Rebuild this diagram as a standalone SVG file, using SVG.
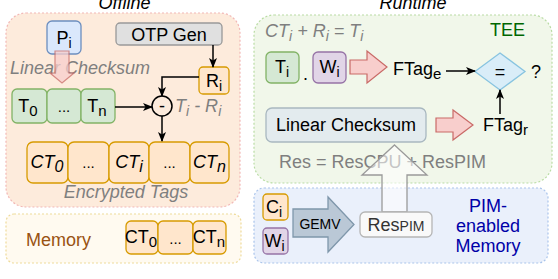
<svg xmlns="http://www.w3.org/2000/svg" width="558" height="279" viewBox="0 0 558 279">
<style>
text{font-family:"Liberation Sans",Arial,sans-serif;font-size:18px;fill:#000;}
.c{text-anchor:middle;}
.it{font-style:italic;}
.gray{fill:#7f7f7f;}
.green{fill:#d5e8d4;stroke:#82b366;stroke-width:1.3;}
.orange{fill:#ffe6cc;stroke:#d79b00;stroke-width:1.3;}
.blue{fill:#dae8fc;stroke:#6c8ebf;stroke-width:1.3;}
.purple{fill:#e1d5e7;stroke:#9673a6;stroke-width:1.3;}
.conn{fill:none;stroke:#000;stroke-width:1.5;marker-end:url(#ah);}
.pink{fill:#f8cecc;stroke:#c96a67;stroke-width:1.2;}
</style>
<defs>
<marker id="ah" markerWidth="10" markerHeight="8" refX="9" refY="4" orient="auto" markerUnits="userSpaceOnUse">
<path d="M0,0 L10,4 L0,8 L2.5,4 Z" fill="#000"/>
</marker>
</defs>

<!-- containers -->
<g id="offline">
<rect x="6" y="13" width="234" height="194" rx="20" fill="#fdebdc" stroke="#f2b8b6" stroke-width="1.2" stroke-dasharray="2,2"/>
<text class="c it" x="124.5" y="9">Offline</text>
</g>
<g id="memory">
<rect x="6" y="214" width="235" height="49" rx="8" fill="#fffaf0" stroke="#eedb9a" stroke-width="1.2" stroke-dasharray="2,2"/>
<text x="26" y="246" fill="#995213" style="fill:#995213">Memory</text>
</g>
<g id="runtime">
<rect x="254" y="15" width="298" height="168" rx="20" fill="#f1f7ea" stroke="#b9dca4" stroke-width="1.2" stroke-dasharray="2,2"/>
<text class="c it" x="413" y="9">Runtime</text>
<text x="490" y="36" style="fill:#006600">TEE</text>
</g>
<g id="pim">
<rect x="254" y="188" width="294" height="75" rx="10" fill="#eaf0fb" stroke="#a9c4eb" stroke-width="1.2" stroke-dasharray="2,2"/>
<text class="c" x="488" y="212" style="fill:#0000a8">PIM-</text>
<text class="c" x="488" y="232" style="fill:#0000a8">enabled</text>
<text class="c" x="488" y="252" style="fill:#0000a8">Memory</text>
</g>

<!-- offline nodes -->
<g id="node-pi">
<rect class="blue" x="47" y="21" width="34" height="33" rx="5"/>
<text class="c" x="64" y="44">P<tspan font-size="14" dy="4">i</tspan></text>
</g>
<g id="node-otp">
<rect x="116" y="23" width="106" height="22" rx="4" fill="#e0e0e0" stroke="#999" stroke-width="1.3"/>
<text class="c" x="169" y="40.5">OTP Gen</text>
</g>
<g id="node-ri">
<rect class="orange" x="199" y="67" width="30" height="27" rx="4"/>
<text class="c" x="214" y="87">R<tspan font-size="14" dy="4">i</tspan></text>
</g>
<g id="label-linear-offline">
<text class="it gray" x="10" y="74">Linear Checksum</text>
</g>
<g id="node-pi-arrow">
<path class="pink" d="M55,51 L69,51 L69,73 L74,73 L62,83 L50,73 L55,73 Z" opacity="0.75"/>
</g>
<g id="node-t">
<rect class="green" x="12" y="89" width="35" height="34" rx="5"/>
<rect class="green" x="47" y="89" width="34" height="34" rx="5"/>
<rect class="green" x="81" y="89" width="34" height="34" rx="5"/>
<text class="c" x="28" y="112">T<tspan font-size="15" dy="4">0</tspan></text>
<text class="c" x="64" y="112" font-size="15" style="font-size:15px">...</text>
<text class="c" x="97" y="112">T<tspan font-size="15" dy="4">n</tspan></text>
</g>
<g id="node-minus">
<circle cx="162" cy="106" r="10" fill="#fdebdc" stroke="#000" stroke-width="1.5"/>
<text class="c" x="162" y="112">-</text>
<text class="it gray" x="175" y="112">T<tspan font-size="14" dy="4">i</tspan><tspan dy="-4"> - R</tspan><tspan font-size="14" dy="4">i</tspan></text>
</g>
<g id="node-ct">
<rect class="orange" x="27" y="142" width="41" height="41" rx="6"/>
<rect class="orange" x="68" y="142" width="41" height="41" rx="6"/>
<rect class="orange" x="109" y="142" width="40" height="41" rx="6"/>
<rect class="orange" x="149" y="142" width="41" height="41" rx="6"/>
<rect class="orange" x="190" y="142" width="39" height="41" rx="6"/>
<text class="c it" x="47" y="168">CT<tspan font-size="16" dy="4">0</tspan></text>
<text class="c" x="88.5" y="168" style="font-size:15px">...</text>
<text class="c it" x="129" y="168">CT<tspan font-size="16" dy="4">i</tspan></text>
<text class="c" x="169.5" y="168" style="font-size:15px">...</text>
<text class="c it" x="209.5" y="168">CT<tspan font-size="16" dy="4">n</tspan></text>
<text class="c it gray" x="126" y="198">Encrypted Tags</text>
</g>
<g id="node-mem-ct">
<rect class="orange" x="126" y="221" width="32" height="33" rx="5"/>
<rect class="orange" x="158" y="221" width="35" height="33" rx="5"/>
<rect class="orange" x="193" y="221" width="33" height="33" rx="5"/>
<text class="c" x="141" y="243">CT<tspan font-size="15" dy="4">0</tspan></text>
<text class="c" x="175.5" y="244" style="font-size:15px">...</text>
<text class="c" x="209" y="243">CT<tspan font-size="15" dy="4">n</tspan></text>
</g>

<!-- runtime nodes -->
<g id="label-eq">
<text class="it gray" x="265" y="37">CT<tspan font-size="14" dy="4">i</tspan><tspan dy="-4"> + R</tspan><tspan font-size="14" dy="4">i</tspan><tspan dy="-4"> = T</tspan><tspan font-size="14" dy="4">i</tspan></text>
</g>
<g id="node-ti">
<rect class="green" x="266" y="52" width="33" height="31" rx="5"/>
<text class="c" x="282" y="73">T<tspan font-size="14" dy="4">i</tspan></text>
<text x="303" y="80">.</text>
</g>
<g id="node-wi">
<rect class="purple" x="313" y="52" width="33" height="31" rx="5"/>
<text class="c" x="329.5" y="73">W<tspan font-size="14" dy="4">i</tspan></text>
</g>
<g id="arrow-pink-1">
<path class="pink" d="M350,60 L367,60 L367,51 L387,67 L367,83 L367,74 L350,74 Z"/>
</g>
<g id="node-ftage">
<text x="393" y="75">FTag<tspan font-size="15" dy="4">e</tspan></text>
</g>
<g id="node-diamond">
<path d="M500,53 L525,71.5 L500,90 L475,71.5 Z" fill="#d9edf8" stroke="#88c4e0" stroke-width="1.3"/>
<text class="c" x="500" y="78">=</text>
<text x="531" y="78">?</text>
</g>
<g id="node-linear">
<rect x="266" y="108" width="160" height="34" rx="6" fill="#e3ebee" stroke="#a9b8c0" stroke-width="1.3"/>
<text class="c" x="346" y="131">Linear Checksum</text>
</g>
<g id="arrow-pink-2">
<path class="pink" d="M436,118 L453,118 L453,110 L473,125 L453,140 L453,132 L436,132 Z"/>
</g>
<g id="node-ftagr">
<text x="483" y="131">FTag<tspan font-size="15" dy="4">r</tspan></text>
</g>
<g id="label-res">
<text class="gray" x="279" y="168">Res = ResCPU + ResPIM</text>
</g>
<g id="arrow-up">
<path d="M394.5,145 L427,175 L407,175 L407,212 L382,212 L382,175 L362,175 Z" fill="#ffffff" fill-opacity="0.55" stroke="#9a9a9a" stroke-width="1.3"/>
</g>

<!-- pim nodes -->
<g id="node-ci">
<rect class="orange" x="263" y="194" width="25" height="26" rx="4"/>
<text class="c" x="274" y="213">C<tspan font-size="14" dy="4">i</tspan></text>
</g>
<g id="node-wi2">
<rect class="purple" x="263" y="228" width="25" height="26" rx="4"/>
<text class="c" x="274.5" y="247">W<tspan font-size="14" dy="4">i</tspan></text>
</g>
<g id="node-gemv">
<path d="M293,209 L328,209 L328,197 L354,224.5 L328,252 L328,237 L293,237 Z" fill="#bac8d6" stroke="#7f97ab" stroke-width="1.3"/>
<text class="c" x="320" y="229" style="font-size:14px">GEMV</text>
</g>
<g id="node-respim">
<rect x="360" y="212" width="72" height="25" rx="5" fill="#f9f9f9" stroke="#b5b5b5" stroke-width="1.3"/>
<text class="c" x="396" y="231" fill="#333" style="fill:#333">Res<tspan style="font-size:14px">PIM</tspan></text>
</g>

<!-- connectors -->
<g id="connectors">
<path class="conn" d="M213,45 V67"/>
<path class="conn" d="M199,77 H162 V96"/>
<path class="conn" d="M115,107 H152"/>
<path class="conn" d="M162,116 V141"/>
<path class="conn" d="M446,71 H475"/>
<path class="conn" d="M500,114 V90"/>
</g>
</svg>
